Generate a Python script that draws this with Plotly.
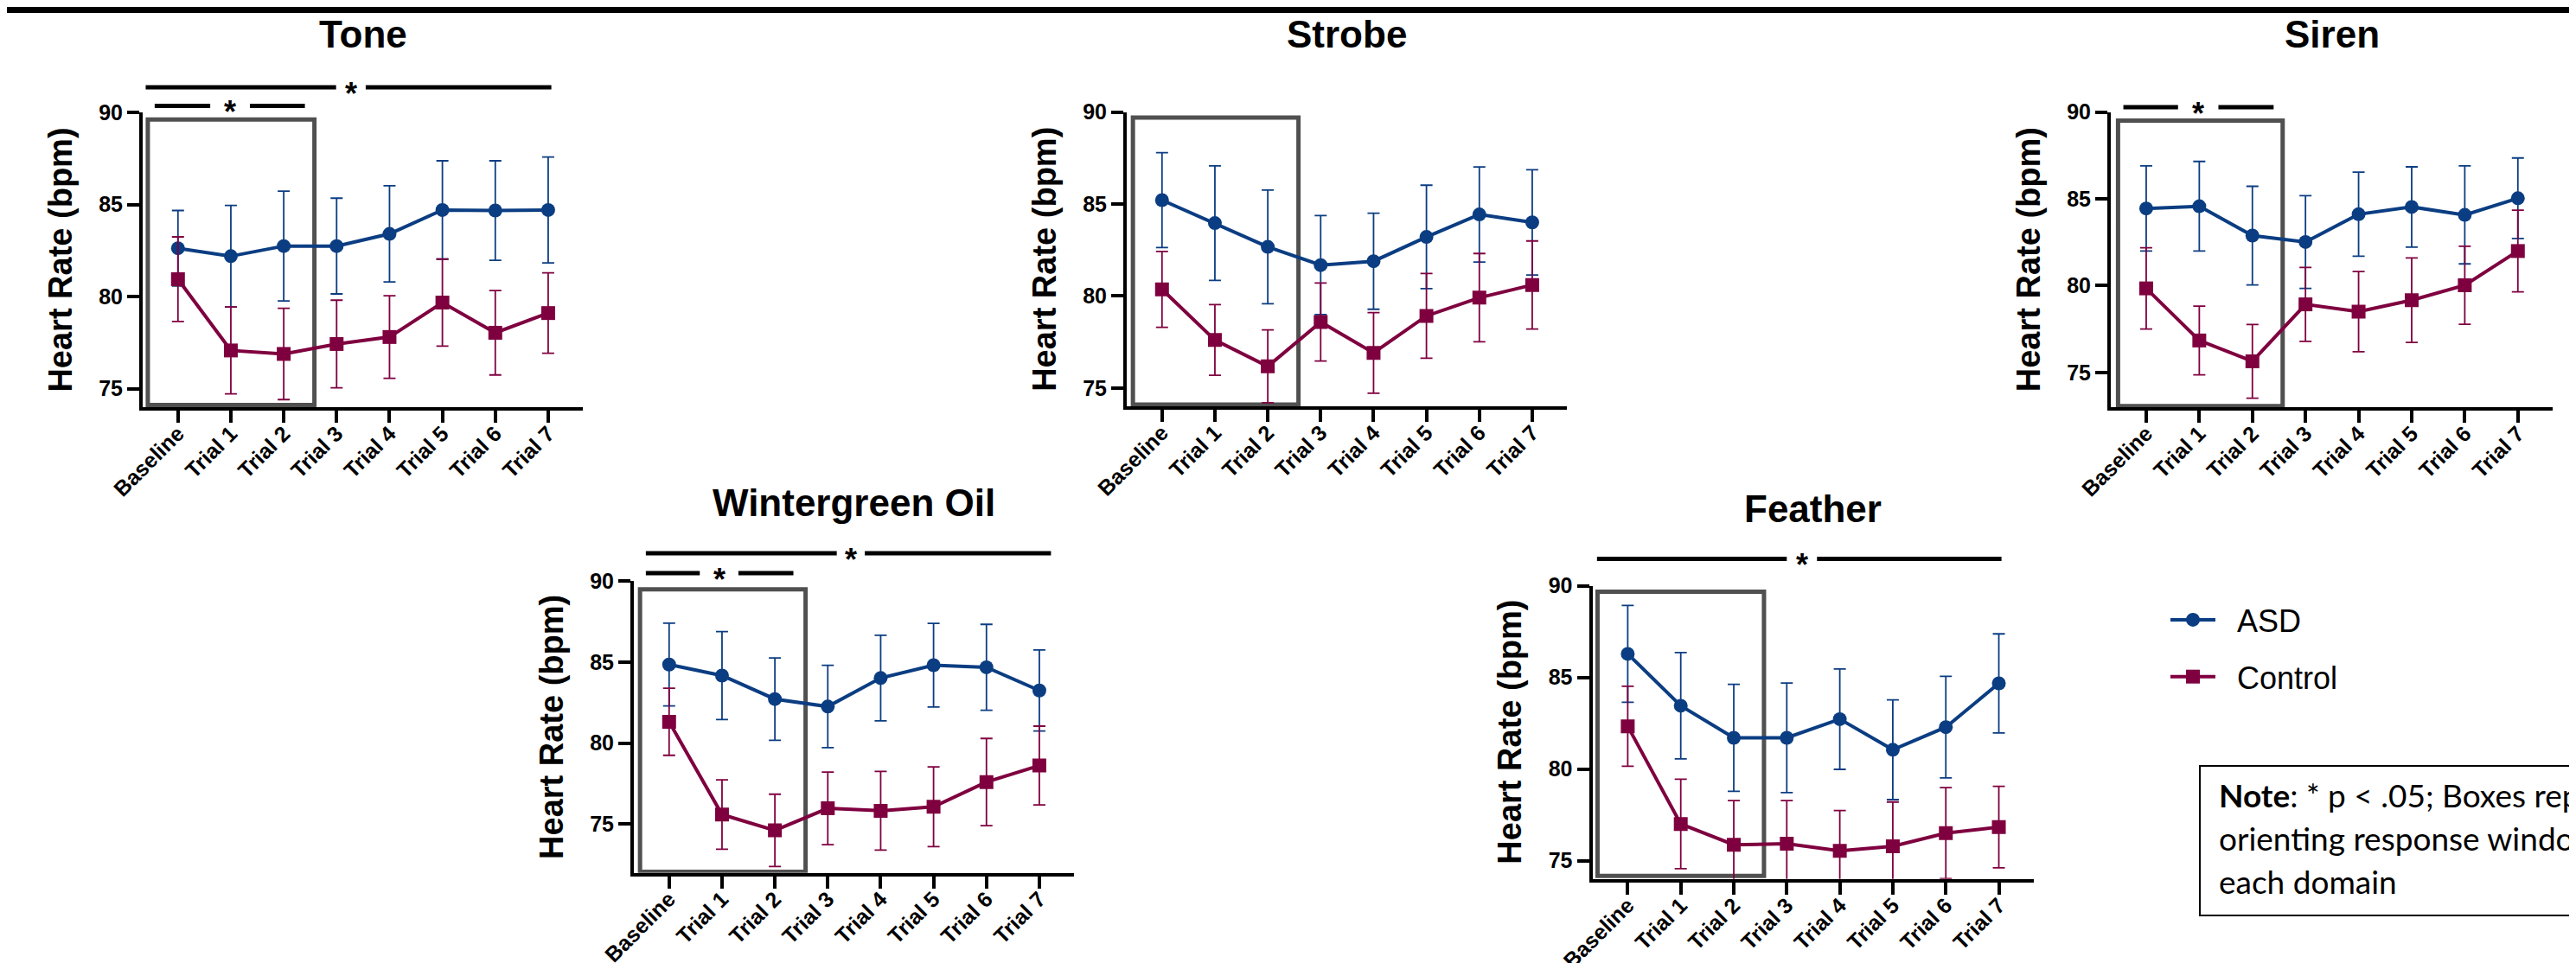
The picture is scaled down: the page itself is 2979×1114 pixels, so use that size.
import plotly.graph_objects as go

# ---------------- data ----------------
categories = ["Baseline", "Trial 1", "Trial 2", "Trial 3", "Trial 4", "Trial 5", "Trial 6", "Trial 7"]

tone_asd = [82.63, 82.20, 82.75, 82.75, 83.41, 84.71, 84.68, 84.71]
tone_asd_se = [2.05, 2.76, 2.98, 2.60, 2.61, 2.67, 2.70, 2.88]
tone_ctl = [80.95, 77.08, 76.89, 77.43, 77.81, 79.68, 78.04, 79.11]
tone_ctl_se = [2.30, 2.36, 2.48, 2.38, 2.24, 2.36, 2.29, 2.18]

strobe_asd = [85.21, 83.96, 82.67, 81.68, 81.89, 83.21, 84.43, 84.00]
strobe_asd_se = [2.58, 3.11, 3.09, 2.69, 2.61, 2.81, 2.58, 2.86]
strobe_ctl = [80.36, 77.61, 76.18, 78.59, 76.91, 78.92, 79.91, 80.60]
strobe_ctl_se = [2.06, 1.92, 1.98, 2.12, 2.19, 2.30, 2.40, 2.39]

siren_asd = [84.44, 84.57, 82.88, 82.51, 84.11, 84.53, 84.07, 85.03]
siren_asd_se = [2.45, 2.58, 2.84, 2.67, 2.42, 2.31, 2.82, 2.32]
siren_ctl = [79.84, 76.84, 75.64, 78.92, 78.50, 79.16, 80.02, 81.99]
siren_ctl_se = [2.34, 1.98, 2.12, 2.13, 2.31, 2.43, 2.25, 2.35]

winter_asd = [84.85, 84.17, 82.72, 82.26, 84.02, 84.81, 84.68, 83.25]
winter_asd_se = [2.55, 2.71, 2.54, 2.54, 2.64, 2.58, 2.65, 2.50]
winter_ctl = [81.32, 75.60, 74.62, 75.98, 75.83, 76.08, 77.60, 78.62]
winter_ctl_se = [2.07, 2.14, 2.23, 2.24, 2.43, 2.46, 2.69, 2.43]

feather_asd = [86.28, 83.45, 81.70, 81.70, 82.72, 81.05, 82.28, 84.67]
feather_asd_se = [2.64, 2.90, 2.92, 2.99, 2.74, 2.72, 2.77, 2.70]
feather_ctl = [82.33, 77.00, 75.87, 75.92, 75.53, 75.78, 76.50, 76.83]
feather_ctl_se = [2.18, 2.44, 2.41, 2.36, 2.20, 2.42, 2.48, 2.22]

y_ticks = [75, 80, 85, 90]
series_names = ["ASD", "Control"]

# ---------------- layout config ----------------
W, H = 2979, 1114
BLUE = "#0b3d82"
MAROON = "#7f003f"
BOXC = "#505050"
FONT = "Liberation Sans, Arial, sans-serif"
XR = [-0.667, 7.655]

panels = [
    dict(title="Tone", asd=tone_asd, asd_se=tone_asd_se, ctl=tone_ctl, ctl_se=tone_ctl_se,
         px=(157, 666), py=(122.2, 463), yr=[74, 90], box=(-0.57, 2.58, 74.12, 89.62), title_y=37,
         sig=[(93, -0.61, 7.06, 2.99, 3.55), (114.5, -0.44, 2.40, 0.61, 1.36)]),
    dict(title="Strobe", asd=strobe_asd, asd_se=strobe_asd_se, ctl=strobe_ctl, ctl_se=strobe_ctl_se,
         px=(1295, 1804), py=(121.5, 462.2), yr=[74, 90], box=(-0.55, 2.58, 74.1, 89.7), title_y=37,
         sig=[]),
    dict(title="Siren", asd=siren_asd, asd_se=siren_asd_se, ctl=siren_ctl, ctl_se=siren_ctl_se,
         px=(2433, 2944), py=(121.5, 463), yr=[73, 90], box=(-0.53, 2.57, 73.06, 89.5), title_y=37,
         sig=[(116, -0.43, 2.40, 0.60, 1.36)]),
    dict(title="Wintergreen Oil", asd=winter_asd, asd_se=winter_asd_se, ctl=winter_ctl, ctl_se=winter_ctl_se,
         px=(725, 1234), py=(664.2, 1001.7), yr=[72, 90], box=(-0.55, 2.58, 72.06, 89.49), title_y=578,
         sig=[(632, -0.44, 7.22, 3.17, 3.70), (655, -0.44, 2.35, 0.58, 1.31)]),
    dict(title="Feather", asd=feather_asd, asd_se=feather_asd_se, ctl=feather_ctl, ctl_se=feather_ctl_se,
         px=(1833.5, 2343.7), py=(669.5, 1008.8), yr=[74, 90], box=(-0.57, 2.57, 74.17, 89.67), title_y=585,
         sig=[(638.4, -0.58, 7.05, 3.00, 3.57)]),
]


def fx(p):
    return p / W


def fy(p):
    return 1 - p / H


fig = go.Figure()
shapes = []
annotations = []
NB = "\u00a0\u00a0"

for i, p in enumerate(panels):
    k = "" if i == 0 else str(i + 1)
    xa, ya = "x" + k, "y" + k
    x0, x1 = p["px"]
    yt, yb = p["py"]
    for name, vals, se, color, sym in [(series_names[0], p["asd"], p["asd_se"], BLUE, "circle"),
                                       (series_names[1], p["ctl"], p["ctl_se"], MAROON, "square")]:
        fig.add_trace(go.Scatter(
            x=categories, y=vals, name=NB + name, mode="lines+markers",
            line=dict(color=color, width=4),
            marker=dict(color=color, size=16, symbol=sym),
            error_y=dict(type="data", array=se, visible=True, color=color, thickness=1.8, width=7),
            xaxis=xa, yaxis=ya, showlegend=(i == 0), legendgroup=name,
        ))
    axis_common = dict(showline=True, linewidth=4, linecolor="black", ticks="outside",
                       ticklen=14, tickwidth=3.5, tickcolor="black", showgrid=False, zeroline=False,
                       automargin=False)
    fig.update_layout(**{
        "xaxis" + k: dict(domain=[fx(x0), fx(x1)], anchor=ya, type="category", range=XR,
                          tickangle=-45, categoryorder="array", categoryarray=categories,
                          ticklabelstandoff=-12,
                          tickfont=dict(family=FONT, size=25, color="black", weight=700), **axis_common),
        "yaxis" + k: dict(domain=[fy(yb), fy(yt)], anchor=xa, range=p["yr"], tickvals=y_ticks,
                          tickfont=dict(family=FONT, size=25, color="black", weight=700), **axis_common),
    })
    bx0, bx1, by0, by1 = p["box"]
    shapes.append(dict(type="rect", xref=xa, yref=ya, x0=bx0, x1=bx1, y0=by0, y1=by1,
                       line=dict(color=BOXC, width=5), fillcolor="rgba(0,0,0,0)", layer="below"))
    annotations.append(dict(text="<b>%s</b>" % p["title"], x=fx((x0 + x1) / 2), y=fy(p["title_y"] - 5),
                            xref="paper", yref="paper", showarrow=False, xanchor="center", yanchor="middle",
                            font=dict(family=FONT, size=44, color="black")))
    annotations.append(dict(text="<b>Heart Rate (bpm)</b>", x=fx(x0 - 95), y=fy((yt + yb) / 2),
                            xref="paper", yref="paper", showarrow=False, textangle=-90,
                            xanchor="center", yanchor="middle",
                            font=dict(family=FONT, size=38, color="black")))

    def ix(idx):
        return x0 + (idx - XR[0]) / (XR[1] - XR[0]) * (x1 - x0)

    for (ypx, a, b, g0, g1) in p["sig"]:
        for (s, e) in [(a, g0), (g1, b)]:
            shapes.append(dict(type="line", xref="paper", yref="paper", x0=fx(ix(s)), x1=fx(ix(e)),
                               y0=fy(ypx), y1=fy(ypx), line=dict(color="black", width=5)))
        annotations.append(dict(text="<b>*</b>", x=fx(ix((g0 + g1) / 2)), y=fy(ypx + 7),
                                xref="paper", yref="paper", showarrow=False, xanchor="center",
                                yanchor="middle", font=dict(family=FONT, size=36, color="black")))

shapes.append(dict(type="rect", xref="paper", yref="paper", x0=0, x1=1, y0=fy(7), y1=1,
                   fillcolor="black", line=dict(width=0)))
shapes.append(dict(type="rect", xref="paper", yref="paper", x0=fx(2536), x1=fx(3200), y0=fy(1051), y1=fy(878),
                   line=dict(color="black", width=2), fillcolor="rgba(0,0,0,0)"))
note_lines = ["<b>Note</b>: * p < .05; Boxes represent", "orienting response window for", "each domain"]
for j, t in enumerate(note_lines):
    annotations.append(dict(text=t, x=fx(2556), y=fy(927 + 50 * j), xref="paper", yref="paper",
                            showarrow=False, xanchor="left", yanchor="bottom", yshift=-9, align="left",
                            font=dict(family="Lato, Carlito, sans-serif", size=37, color="black")))

fig.update_layout(
    width=W, height=H, margin=dict(l=0, r=0, t=0, b=0, autoexpand=False),
    paper_bgcolor="white", plot_bgcolor="white",
    shapes=shapes, annotations=annotations,
    showlegend=True,
    legend=dict(x=fx(2497), y=fy(679), xanchor="left", yanchor="top",
                font=dict(family=FONT, size=36, color="black"),
                tracegroupgap=16, itemwidth=52, bgcolor="rgba(0,0,0,0)"),
)

fig.write_html("out.html")
